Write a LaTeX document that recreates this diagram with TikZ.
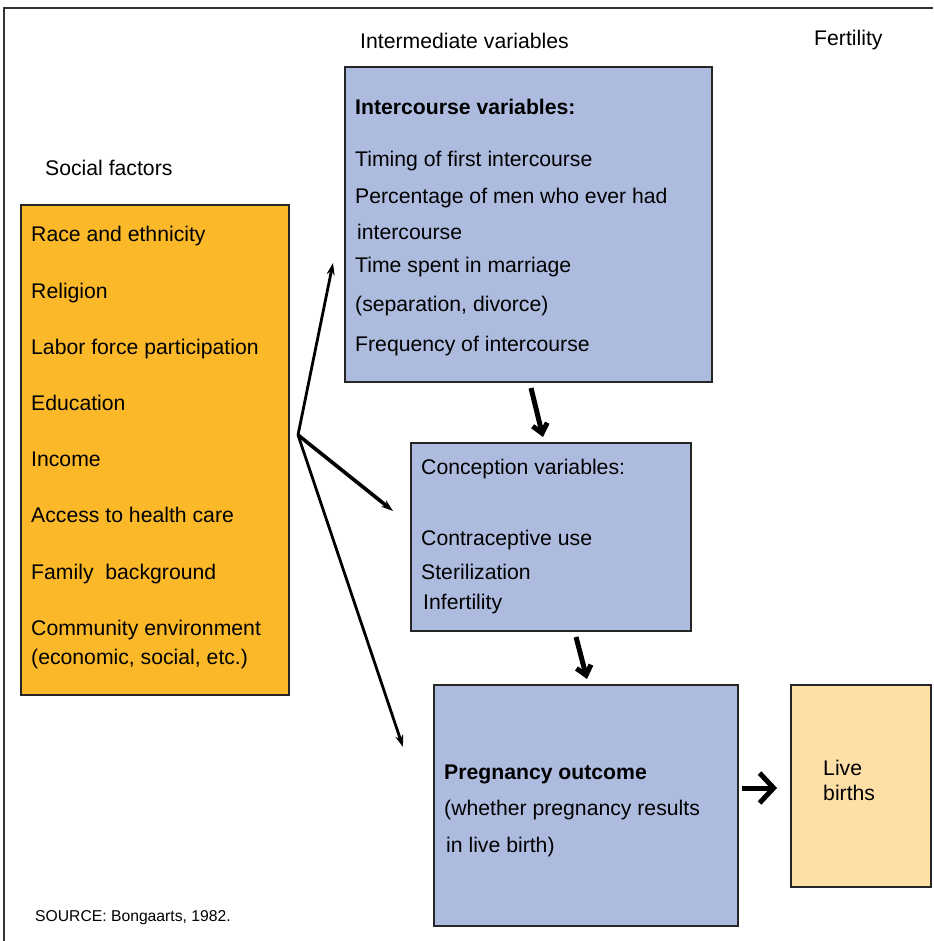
\documentclass[tikz,border=0pt]{standalone}
\usepackage{fontspec}
\setmainfont{Liberation Sans}
\usetikzlibrary{arrows.meta}
\definecolor{factorfill}{RGB}{251,184,41}
\definecolor{varfill}{RGB}{173,187,223}
\definecolor{birthfill}{RGB}{254,223,166}
\begin{document}
\begin{tikzpicture}[y=-1pt,x=1pt]
            \tikzset{
                box/.style={draw=black!85,line width=1.6pt,inner sep=0pt,anchor=north west},
                txt/.style={anchor=base west,inner sep=0pt,font=\fontsize{21.2}{25}\selectfont},
                boldtxt/.style={txt,font=\fontsize{21.2}{25}\selectfont\bfseries},
                thin/.style={-{Stealth[length=12pt,width=8pt]},line width=2.8pt},
                thick/.style={-{Straight Barb[length=9pt,width=15pt]},line width=5pt}
            }
            \useasboundingbox (0,0) rectangle (933,941);
            \draw[line width=2pt,black!80] (4,941) -- (4,8) -- (933,8);

            \node[box,fill=factorfill,minimum width=268pt,minimum height=490pt] (social) at (20,204) {};
            \node[box,fill=varfill,minimum width=367pt,minimum height=315pt] (intc) at (344,66) {};
            \node[box,fill=varfill,minimum width=280pt,minimum height=188pt] (conc) at (410,442) {};
            \node[box,fill=varfill,minimum width=304pt,minimum height=241pt] (preg) at (433,684) {};
            \node[box,fill=birthfill,minimum width=140pt,minimum height=202pt] (live) at (790,684) {};

            \node[txt] (hsoc) at (45,176) {Social factors};
            \node[txt] (hint) at (360,49) {Intermediate variables};
            \node[txt] (hfer) at (814,46) {Fertility};
            \node[txt,font=\fontsize{15.7}{18}\selectfont] (src) at (35,921) {SOURCE: Bongaarts, 1982.};

            \node[txt] (s1) at (31,241) {Race and ethnicity};
            \node[txt] (s2) at (31,298) {Religion};
            \node[txt] (s3) at (31,354) {Labor force participation};
            \node[txt] (s4) at (31,410) {Education};
            \node[txt] (s5) at (31,466) {Income};
            \node[txt] (s6) at (31,522) {Access to health care};
            \node[txt] (s7) at (31,579) {Family\ \ background};
            \node[txt] (s8) at (31,635) {Community environment};
            \node[txt] (s9) at (31,664) {(economic, social, etc.)};

            \node[boldtxt] (i0) at (355,115) {Intercourse variables:};
            \node[txt] (i1) at (355,167) {Timing of first intercourse};
            \node[txt] (i2) at (355,204) {Percentage of men who ever had};
            \node[txt] (i3) at (357,239) {intercourse};
            \node[txt] (i4) at (355,272) {Time spent in marriage};
            \node[txt] (i5) at (355,311) {(separation, divorce)};
            \node[txt] (i6) at (355,351) {Frequency of intercourse};

            \node[txt] (c0) at (421,474) {Conception variables:};
            \node[txt] (c1) at (421,545) {Contraceptive use};
            \node[txt] (c2) at (421,579) {Sterilization};
            \node[txt] (c3) at (423,609) {Infertility};

            \node[boldtxt] (p0) at (444,779) {Pregnancy outcome};
            \node[txt] (p1) at (444,815) {(whether pregnancy results};
            \node[txt] (p2) at (446,852) {in live birth)};

            \node[txt] (l1) at (823,775) {Live};
            \node[txt] (l2) at (823,800) {births};

            \coordinate (fork) at (298,435);
            \coordinate (tointc) at (333,263);
            \coordinate (toconc) at (393,511);
            \coordinate (topreg) at (403,747);
            \draw[thin] (fork) -- (tointc);
            \draw[thin,line width=3.6pt] (fork) -- (toconc);
            \draw[thin] (fork) -- (topreg);

            \coordinate (a1) at (531,388);
            \coordinate (b1) at (543,437);
            \coordinate (a2) at (576,637);
            \coordinate (b2) at (587,679);
            \coordinate (a3) at (742,788);
            \coordinate (b3) at (777,788);
            \draw[thick] (a1) -- (b1);
            \draw[thick] (a2) -- (b2);
            \draw[thick,-{Straight Barb[length=14pt,width=30pt]}] (a3) -- (b3);
        \end{tikzpicture}
\end{document}
